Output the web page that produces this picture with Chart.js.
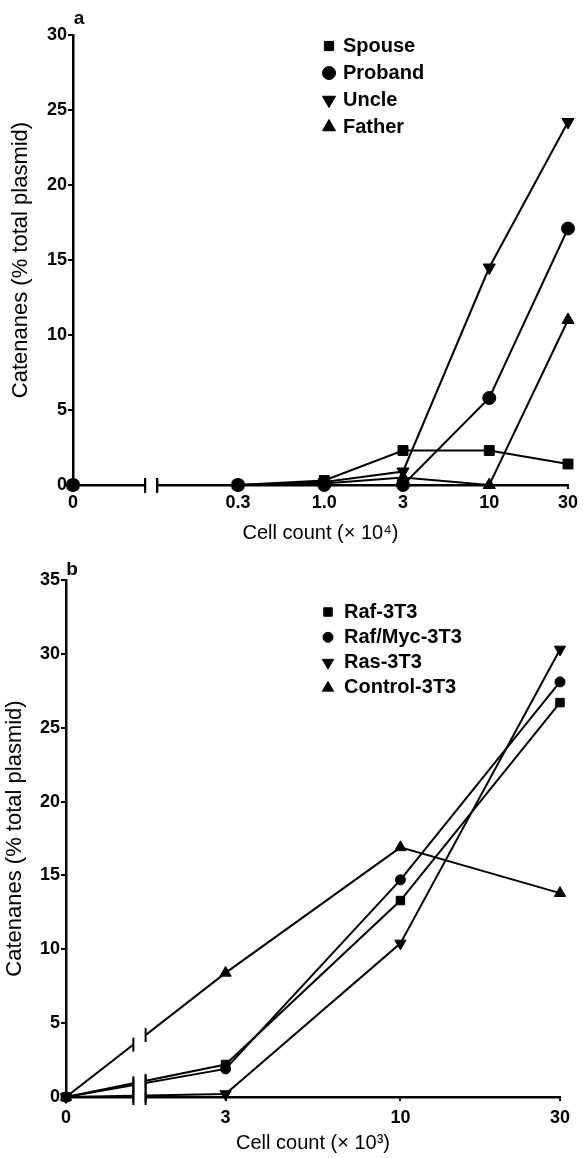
<!DOCTYPE html>
<html>
<head>
<meta charset="utf-8">
<title>Catenanes vs cell count</title>
<script src="https://cdn.jsdelivr.net/npm/chart.js@4.4.1/dist/chart.umd.min.js"></script>
<style>
  html, body { margin: 0; padding: 0; background: #fff; }
  #wrap { width: 585px; height: 1158px; }
  canvas { display: block; }
</style>
</head>
<body>
<div id="wrap">
  <canvas id="chartA" width="585" height="545"></canvas>
  <canvas id="chartB" width="585" height="613"></canvas>
</div>
<script>
// ---- panel a : family members (cell count x 10^4) ----
const countsA = [0, 0.3, 1.0, 3, 10, 30];
const tickLabelsA = ['0', '0.3', '1.0', '3', '10', '30'];
const spouse  = [0, 0, 0.3, 2.3, 2.3, 1.4];
const proband = [0, 0, 0, 0, 5.8, 17.1];
const uncle   = [0, 0, 0.2, 0.9, 14.5, 24.2];
const father  = [0, 0, 0.1, 0.5, 0, 11.0];

// ---- panel b : 3T3 lines (cell count x 10^3) ----
const countsB = [0, 3, 10, 30];
const tickLabelsB = ['0', '3', '10', '30'];
const raf     = [0, 2.2, 13.3, 26.7];
const rafMyc  = [0, 1.9, 14.7, 28.1];
const ras     = [0, 0.2, 10.4, 30.3];
const control = [0, 8.4, 16.9, 13.8];

const FONT = "'Liberation Sans', Arial, Helvetica, sans-serif";
Chart.defaults.font.family = FONT;
Chart.defaults.color = '#000';

// x axis is logarithmic, the "0" count sits one slot left of the first value
function logPos(c, zeroAt) {
    return Math.log10(c === 0 ? zeroAt : c);
}

const MARKS = {
    square: { pointStyle: 'rect', rotation: 0 },
    circle: { pointStyle: 'circle', rotation: 0 },
    down:   { pointStyle: 'triangle', rotation: 180 },
    up:     { pointStyle: 'triangle', rotation: 0 }
};

function series(label, counts, values, zeroAt, mark, sizes) {
    const m = MARKS[mark];
    return {
        label,
        data: counts.map((c, i) => ({ x: logPos(c, zeroAt), y: values[i] })),
        borderColor: '#000',
        borderWidth: 2,
        tension: 0,
        clip: false,
        pointStyle: m.pointStyle,
        pointRotation: m.rotation,
        pointRadius: sizes[m.pointStyle],
        pointBackgroundColor: '#000',
        pointBorderColor: '#000',
        pointBorderWidth: 1
    };
}

function drawMark(ctx, style, rotation, radius, x, y) {
    if (Chart.helpers && Chart.helpers.drawPoint) {
        Chart.helpers.drawPoint(ctx, { pointStyle: style, rotation, radius, borderWidth: 1 }, x, y);
        return;
    }
    ctx.beginPath();
    if (style === 'circle') {
        ctx.arc(x, y, radius, 0, Math.PI * 2);
    } else if (style === 'rect') {
        const s = radius * Math.SQRT1_2;
        ctx.rect(x - s, y - s, 2 * s, 2 * s);
    } else {
        let rad = rotation * Math.PI / 180;
        for (let k = 0; k < 3; k++) {
            const px = x + Math.sin(rad) * radius, py = y - Math.cos(rad) * radius;
            k ? ctx.lineTo(px, py) : ctx.moveTo(px, py);
            rad += 2 * Math.PI / 3;
        }
        ctx.closePath();
    }
    ctx.fill();
}

// break in the x axis between the "0" slot and the first count
const axisBreak = {
    id: 'axisBreak',
    afterDraw(chart, args, opts) {
        if (!opts || !opts.between) return;
        const ctx = chart.ctx;
        const area = chart.chartArea;
        const xs = chart.scales.x;
        const xa = xs.getPixelForValue(logPos(opts.between[0], opts.zeroAt));
        const xb = xs.getPixelForValue(logPos(opts.between[1], opts.zeroAt));
        ctx.save();
        ctx.fillStyle = '#fff';
        ctx.fillRect(xa, area.top, xb - xa, area.bottom - area.top + 4);
        ctx.strokeStyle = '#000';
        ctx.lineWidth = 2;
        const cuts = [];
        chart.getSortedVisibleDatasetMetas().forEach(meta => {
            const p = meta.data[0], q = meta.data[1];
            [xa, xb].forEach(x => {
                const t = (x - p.x) / (q.x - p.x);
                cuts.push([x, p.y + t * (q.y - p.y)]);
            });
        });
        cuts.push([xa, area.bottom + 1], [xb, area.bottom + 1]);
        cuts.forEach(([x, y]) => {
            ctx.beginPath();
            ctx.moveTo(x, y - 7);
            ctx.lineTo(x, y + 7);
            ctx.stroke();
        });
        ctx.restore();
    }
};

// legend inside the plot + panel letter
const innerLegend = {
    id: 'innerLegend',
    afterDraw(chart, args, opts) {
        if (!opts || !opts.x) return;
        const ctx = chart.ctx;
        ctx.save();
        ctx.fillStyle = '#000';
        ctx.strokeStyle = '#000';
        ctx.lineWidth = 1;
        ctx.textBaseline = 'middle';
        ctx.textAlign = 'left';
        ctx.font = opts.font;
        chart.data.datasets.forEach((ds, i) => {
            const y = opts.y + i * opts.step;
            drawMark(ctx, ds.pointStyle, ds.pointRotation, opts.radius[ds.pointStyle], opts.x, y);
            ctx.fillText(ds.label, opts.textX, y);
        });
        ctx.font = 'bold 19px ' + FONT;
        ctx.textAlign = 'center';
        ctx.fillText(opts.tag.text, opts.tag.x, opts.tag.y);
        ctx.restore();
    }
};

function makePanel(id, p) {
    const axisLine = { display: true, color: '#000', width: 2.5 };
    const tickFont = { size: 18, weight: 'bold' };
    return new Chart(document.getElementById(id), {
        type: 'line',
        data: { datasets: p.datasets },
        options: {
            responsive: false,
            animation: false,
            events: [],
            layout: { padding: p.padding },
            plugins: {
                legend: { display: false },
                tooltip: { enabled: false },
                axisBreak: p.brk,
                innerLegend: p.legend
            },
            scales: {
                x: {
                    type: 'linear',
                    min: logPos(p.counts[0], p.zeroAt),
                    max: logPos(p.counts[p.counts.length - 1], p.zeroAt),
                    afterBuildTicks: s => {
                        s.ticks = p.counts.map(c => ({ value: logPos(c, p.zeroAt) }));
                    },
                    afterFit: s => { s.height = p.xHeight; },
                    ticks: {
                        autoSkip: false,
                        maxRotation: 0,
                        padding: p.xTickPad,
                        font: tickFont,
                        callback: (v, i) => p.tickLabels[i]
                    },
                    grid: { drawOnChartArea: false, drawTicks: true, tickLength: 4, color: '#000', lineWidth: 2 },
                    border: axisLine,
                    title: {
                        display: true,
                        text: p.xTitle,
                        font: { size: 20 },
                        padding: { top: 0, bottom: p.xTitlePad }
                    }
                },
                y: {
                    min: 0,
                    max: p.yMax,
                    afterFit: s => { s.width = p.yWidth; },
                    ticks: { stepSize: 5, padding: 1, font: tickFont },
                    grid: { drawOnChartArea: false, drawTicks: true, tickLength: 5, color: '#000', lineWidth: 2 },
                    border: axisLine,
                    title: {
                        display: true,
                        text: 'Catenanes (% total plasmid)',
                        font: { size: 22 },
                        padding: { top: 0, bottom: 0 }
                    }
                }
            }
        },
        plugins: [axisBreak, innerLegend]
    });
}

const sizesA = { rect: 7, circle: 6.5, triangle: 7 };
const ZERO_A = 0.03;
makePanel('chartA', {
    counts: countsA,
    tickLabels: tickLabelsA,
    zeroAt: ZERO_A,
    datasets: [
        series('Spouse', countsA, spouse, ZERO_A, 'square', sizesA),
        series('Proband', countsA, proband, ZERO_A, 'circle', sizesA),
        series('Uncle', countsA, uncle, ZERO_A, 'down', sizesA),
        series('Father', countsA, father, ZERO_A, 'up', sizesA)
    ],
    padding: { left: 8, right: 17, top: 35, bottom: 0 },
    yWidth: 65,
    xHeight: 60,
    xTickPad: 3,
    xTitlePad: 0,
    yMax: 30,
    xTitle: 'Cell count (\u00d7 10\u2074)',
    brk: { between: [0.082, 0.097], zeroAt: ZERO_A },
    legend: {
        x: 329, textX: 343, y: 46, step: 27,
        font: 'bold 20px ' + FONT,
        radius: { rect: 6.5, circle: 6.5, triangle: 7.5 },
        tag: { text: 'a', x: 79, y: 19 }
    }
});

const sizesB = { rect: 6, circle: 5, triangle: 6.5 };
const ZERO_B = 1;
makePanel('chartB', {
    counts: countsB,
    tickLabels: tickLabelsB,
    zeroAt: ZERO_B,
    datasets: [
        series('Raf-3T3', countsB, raf, ZERO_B, 'square', sizesB),
        series('Raf/Myc-3T3', countsB, rafMyc, ZERO_B, 'circle', sizesB),
        series('Ras-3T3', countsB, ras, ZERO_B, 'down', sizesB),
        series('Control-3T3', countsB, control, ZERO_B, 'up', sizesB)
    ],
    padding: { left: 2, right: 25, top: 35, bottom: 0 },
    yWidth: 64,
    xHeight: 61,
    xTickPad: 6,
    xTitlePad: 3,
    yMax: 35,
    xTitle: 'Cell count (\u00d7 10\u00b3)',
    brk: { between: [1.59, 1.73], zeroAt: ZERO_B },
    legend: {
        x: 328, textX: 344, y: 67, step: 25.3,
        font: 'bold 20px ' + FONT,
        radius: { rect: 6, circle: 5, triangle: 6.5 },
        tag: { text: 'b', x: 72, y: 25 }
    }
});
</script>
</body>
</html>
